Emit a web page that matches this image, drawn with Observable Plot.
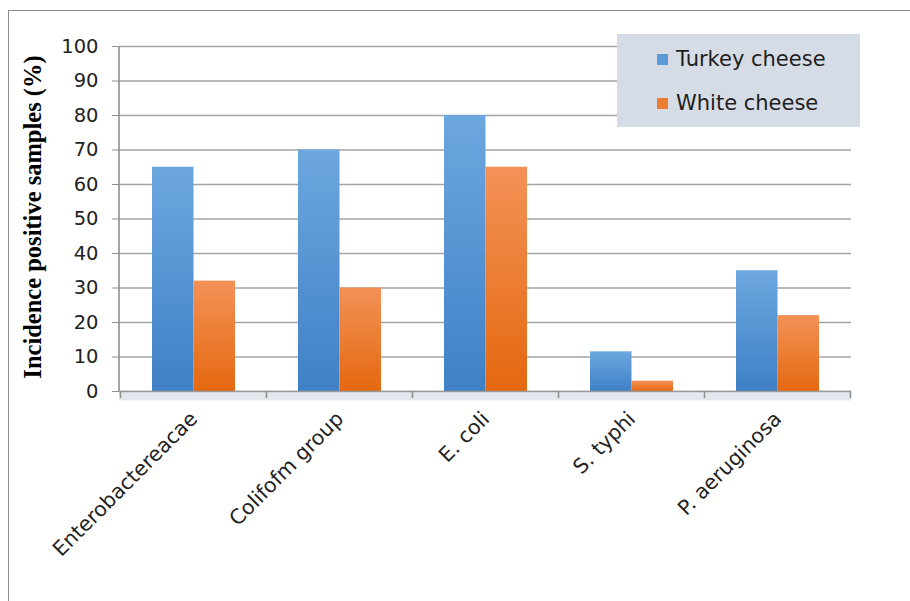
<!DOCTYPE html>
<html>
<head>
<meta charset="utf-8">
<script src="https://cdn.jsdelivr.net/npm/d3@7"></script>
<script src="https://cdn.jsdelivr.net/npm/@observablehq/plot@0.6"></script>
<style>
  html, body { margin: 0; padding: 0; background: #fff; overflow: hidden; }
  #wrap { position: relative; width: 910px; height: 601px; font-family: "DejaVu Sans", sans-serif; }
  #frame { position: absolute; left: 8px; top: 10px; width: 1000px; height: 700px;
           border-left: 1.5px solid #8c8c8c; border-top: 1.5px solid #8c8c8c; box-sizing: border-box; }
  #chart { position: absolute; left: 0; top: 0; }
  #legend { position: absolute; left: 617px; top: 34px; width: 243px; height: 93px; background: #d6dce5; }
  .item { position: absolute; left: 40px; display: flex; align-items: center; font-size: 21px; color: #1e1e1e; }
  .sw { width: 11px; height: 11px; margin-right: 8px; }
  #ylab { position: absolute; left: 33px; top: 217px; transform: translate(-50%, -50%) rotate(-90deg);
          white-space: nowrap; font-family: "Liberation Serif", serif; font-weight: bold; font-size: 24.5px; color: #000; }
</style>
</head>
<body>
<div id="wrap">
  <div id="frame"></div>
  <div id="chart"></div>
  <div id="ylab">Incidence positive samples (%)</div>
  <div id="legend"></div>
</div>
<script>
const categories = ["Enterobactereacae", "Colifofm group", "E. coli", "S. typhi", "P. aeruginosa"];
const series = ["Turkey cheese", "White cheese"];
const turkeyValues = [65, 70, 80, 11.5, 35];
const whiteValues = [32, 30, 65, 3, 22];
const yTicks = [0, 10, 20, 30, 40, 50, 60, 70, 80, 90, 100];
const seriesColors = ["#5b9bd5", "#ed7d31"];

const turkeyData = categories.map((c, i) => ({cat: c, series: series[0], value: turkeyValues[i]}));
const whiteData = categories.map((c, i) => ({cat: c, series: series[1], value: whiteValues[i]}));

const halfBar = 41.5;

const plot = Plot.plot({
  width: 910,
  height: 601,
  marginLeft: 119,
  marginRight: 59,
  marginTop: 46,
  marginBottom: 210,
  style: {fontFamily: "DejaVu Sans", background: "transparent", overflow: "visible"},
  x: {domain: categories, paddingInner: 0.433, paddingOuter: 0.2165, label: null},
  y: {domain: [0, 100], label: null},
  marks: [
    Plot.ruleY(yTicks, {stroke: "#a3a3a3", strokeWidth: 1.6}),
    Plot.ruleY([0], {dy: 5, stroke: "#e3e8ef", strokeWidth: 8}),
    Plot.barY(turkeyData, {x: "cat", y: "value", fill: "url(#gradTurkey)", insetRight: halfBar}),
    Plot.barY(whiteData, {x: "cat", y: "value", fill: "url(#gradWhite)", insetLeft: halfBar}),
    Plot.axisY({ticks: yTicks, tickSize: 7, tickPadding: 14, fontSize: 19.5, stroke: "#8f8f8f", fill: "#222", label: null}),
    Plot.axisX({tickSize: 0, tickPadding: 24, tickRotate: -45, fontSize: 20.5, fill: "#222", label: null}),
    Plot.ruleY([0], {stroke: "#9a9a9a", strokeWidth: 1.6})
  ]
});

// gradients
const svg = d3.select(plot);
const defs = svg.insert("defs", ":first-child");
function grad(id, top, bottom) {
  const g = defs.append("linearGradient").attr("id", id).attr("x1", 0).attr("y1", 0).attr("x2", 0).attr("y2", 1);
  g.append("stop").attr("offset", "0%").attr("stop-color", top);
  g.append("stop").attr("offset", "100%").attr("stop-color", bottom);
}
grad("gradTurkey", "#6ca7df", "#3f80c6");
grad("gradWhite", "#f39257", "#e46810");

// y-axis line and category boundary ticks through the plot's scales
const xs = plot.scale("x");
const ys = plot.scale("y");
const y0 = ys.apply(0), y100 = ys.apply(100);
const gap = (xs.step - xs.bandwidth) / 2;
const extra = svg.append("g").attr("stroke", "#8f8f8f").attr("stroke-width", 1.6);
extra.append("line").attr("x1", xs.range[0]).attr("x2", xs.range[0]).attr("y1", y0).attr("y2", y100);
const bounds = categories.map(c => xs.apply(c) - gap).concat([xs.apply(categories[categories.length - 1]) + xs.bandwidth + gap]);
bounds.forEach(b => extra.append("line").attr("x1", b).attr("x2", b).attr("y1", y0).attr("y2", y0 + 7));

document.getElementById("chart").appendChild(plot);

// legend
const legend = document.getElementById("legend");
series.forEach((s, i) => {
  const it = document.createElement("div");
  it.className = "item";
  it.style.top = (13 + i * 44) + "px";
  it.innerHTML = `<span class="sw" style="background:${seriesColors[i]}"></span><span>${s}</span>`;
  legend.appendChild(it);
});
</script>
</body>
</html>
